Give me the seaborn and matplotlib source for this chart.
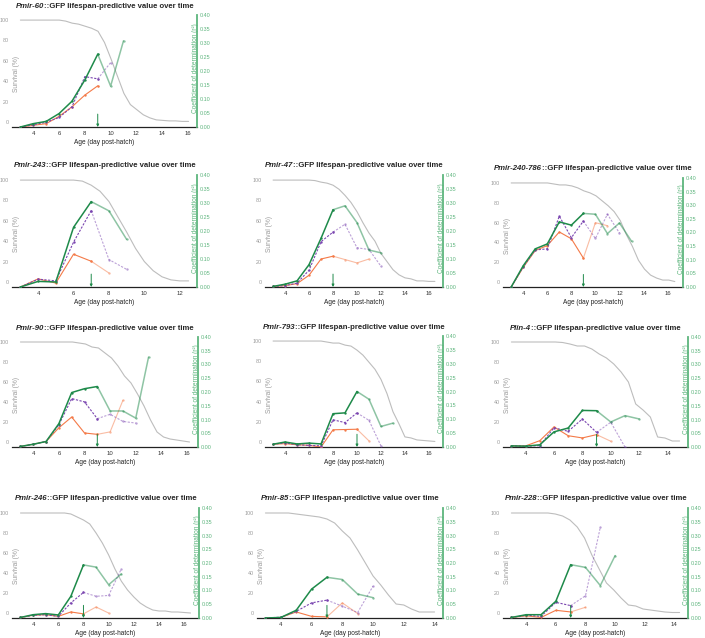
import numpy as np
import matplotlib
matplotlib.use("Agg")
import matplotlib.pyplot as plt
import seaborn as sns

sns.set_theme(style="white")
plt.rcParams["font.family"] = ["Liberation Sans", "DejaVu Sans"]

W, H = 705, 638

# survival curves (%), sampled every half day from day 3; last value sits at *_END
P60_SURV = [100, 100, 100, 100, 100, 100, 100, 99, 97, 96, 94, 92, 89, 78, 62, 45, 28, 17, 12, 7, 4, 2, 1.5, 1, 1, 0.5, 0.5]
P243_SURV = [100, 100, 100, 100, 100, 100, 100, 99, 95, 89, 79, 64, 49, 33, 20, 11, 5, 2, 1, 1]
P47_SURV = [100, 100, 100, 100, 100, 100, 100, 99.5, 98, 97, 95, 91, 85, 78, 69, 58, 48, 40, 28, 20, 12, 7, 4, 3, 1, 1, 0.5, 0.5]
P240_SURV = [100, 100, 100, 100, 100, 100, 100, 99, 98, 98, 97, 95, 92, 90, 87, 82, 77, 71, 62, 48, 36, 22, 13, 7, 4, 2, 2, 0.5]
P90_SURV = [100, 100, 100, 100, 100, 100, 100, 100, 100, 99, 98, 95, 94, 89, 84, 76, 66, 59, 48, 36, 22, 10, 5, 3, 2, 1, 0]
P793_SURV = [100, 100, 100, 100, 100, 100, 100, 100, 100, 99, 98, 98, 96, 95, 91, 86, 79, 72, 62, 48, 30, 18, 5, 4, 2, 1.5, 1, 0.5]
PLIN4_SURV = [100, 100, 100, 100, 100, 100, 100, 99.5, 98, 96, 96, 93, 88, 84, 78, 70, 60, 38, 32, 25, 5, 4, 1, 1]
P246_SURV = [100, 100, 100, 100, 100, 100, 100, 100, 99, 96, 93, 89, 80, 70, 58, 44, 32, 23, 16, 10, 6, 3, 2, 2, 1, 1, 0.5, 0]
P85_SURV = [100, 100, 100, 100, 99, 98, 97, 96, 94, 90, 82, 75, 63, 50, 37, 28, 18, 9, 8, 4, 1, 1, 1]
P228_SURV = [100, 100, 100, 100, 100, 100, 99, 97, 93, 86, 75, 58, 44, 30, 23, 15, 8, 7, 4, 3, 2, 1, 0.5, 0.5]

SURV_END = [16.05, 12.5, 16.5, 16.6, 16.2, 16.5, 14.85, 16.5, 14.0, 14.35]

# r2 per day, starting at day 3 (green = GFP, purple dashed, orange)
nan = np.nan
P60_G = [0.0, 0.012, 0.02, 0.048, 0.092, 0.168, 0.26, 0.146, 0.308]
P60_P = [0.0, 0.008, 0.017, 0.034, 0.072, 0.18, 0.172, 0.23, nan]
P60_O = [0.0, 0.006, 0.012, 0.038, 0.072, 0.114, 0.147, nan, nan]

P243_G = [0.0, 0.02, 0.018, 0.213, 0.305, 0.272, 0.17]
P243_P = [0.0, 0.028, 0.022, 0.16, 0.273, 0.098, 0.063]
P243_O = [0.0, 0.029, 0.014, 0.117, 0.092, 0.05, nan]

P47_G = [0.002, 0.01, 0.022, 0.08, 0.174, 0.276, 0.29, 0.23, 0.132, 0.122]
P47_P = [0.002, 0.005, 0.014, 0.06, 0.162, 0.196, 0.224, 0.14, 0.134, 0.074]
P47_O = [0.002, 0.005, 0.012, 0.042, 0.1, 0.11, 0.098, 0.086, 0.1, nan]

P240_G = [0.0, 0.078, 0.14, 0.158, 0.239, 0.227, 0.27, 0.267, 0.196, 0.235, 0.168]
P240_P = [0.0, 0.074, 0.136, 0.14, 0.26, 0.181, 0.242, 0.178, 0.267, 0.198, nan]
P240_O = [0.0, 0.072, 0.134, 0.152, 0.202, 0.177, 0.106, 0.236, 0.225, nan, nan]

P90_G = [0.002, 0.01, 0.02, 0.085, 0.198, 0.212, 0.22, 0.131, 0.131, 0.105, 0.327]
P90_P = [0.002, 0.01, 0.02, 0.081, 0.176, 0.164, 0.103, 0.119, 0.093, 0.087, nan]
P90_O = [0.002, 0.01, 0.02, 0.07, 0.109, 0.051, 0.046, 0.055, 0.17, nan, nan]

P793_G = [0.01, 0.018, 0.011, 0.014, 0.011, 0.12, 0.123, 0.2, 0.172, 0.074, 0.086]
P793_P = [0.01, 0.015, 0.008, 0.006, 0.004, 0.098, 0.088, 0.123, 0.096, 0.004, nan]
P793_O = [0.01, 0.012, 0.008, 0.006, 0.0, 0.062, 0.063, 0.064, 0.022, nan, nan]

PLIN4_G = [0.004, 0.003, 0.008, 0.055, 0.069, 0.133, 0.132, 0.091, 0.114, 0.102]
PLIN4_P = [0.004, 0.003, 0.005, 0.07, 0.057, 0.102, 0.053, 0.09, 0.0, nan]
PLIN4_O = [0.004, 0.004, 0.023, 0.073, 0.041, 0.033, 0.045, 0.021, nan, nan]

P246_G = [0.002, 0.012, 0.016, 0.011, 0.079, 0.193, 0.185, 0.121, 0.16]
P246_P = [0.002, 0.01, 0.012, 0.006, 0.055, 0.093, 0.079, 0.082, 0.178]
P246_O = [0.002, 0.01, 0.012, 0.006, 0.022, 0.015, 0.04, 0.018, nan]

P85_G = [0.0, 0.002, 0.028, 0.105, 0.148, 0.14, 0.087, 0.074]
P85_P = [0.0, 0.003, 0.024, 0.055, 0.065, 0.043, 0.02, 0.116]
P85_O = [0.0, 0.002, 0.022, 0.006, 0.004, 0.055, 0.016, nan]

P228_G = [0.002, 0.012, 0.012, 0.061, 0.194, 0.184, 0.118, 0.227]
P228_P = [0.002, 0.01, 0.006, 0.057, 0.045, 0.081, 0.33, nan]
P228_O = [0.002, 0.008, 0.002, 0.028, 0.022, 0.039, nan, nan]

GENES = ["Pmir-60", "Pmir-243", "Pmir-47", "Pmir-240-786", "Pmir-90",
         "Pmir-793", "Plin-4", "Pmir-246", "Pmir-85", "Pmir-228"]
ARROW_DAY = [9, 7, 8, 9, 9, 10, 9, 8, 7, 7]

SURV = [P60_SURV, P243_SURV, P47_SURV, P240_SURV, P90_SURV,
        P793_SURV, PLIN4_SURV, P246_SURV, P85_SURV, P228_SURV]
R2 = [(P60_G, P60_P, P60_O), (P243_G, P243_P, P243_O), (P47_G, P47_P, P47_O),
      (P240_G, P240_P, P240_O), (P90_G, P90_P, P90_O), (P793_G, P793_P, P793_O),
      (PLIN4_G, PLIN4_P, PLIN4_O), (P246_G, P246_P, P246_O),
      (P85_G, P85_P, P85_O), (P228_G, P228_P, P228_O)]

# axes boxes in pixels: left, top, right, bottom
BOXES = [(12, 15, 197, 127),
         (12, 175, 197, 287), (265, 175, 443, 287), (503, 178, 683, 287),
         (12, 337, 198, 447), (265, 336, 443, 447), (503, 337, 688, 447),
         (12, 508, 199, 618), (257, 508, 443, 618), (503, 508, 688, 618)]

C_GREEN = "#1e8a4a"
C_PURPLE = "#7a45b0"
C_ORANGE = "#f47a48"
C_GRAY = "#bdbdbd"
C_AXGREEN = "#5db57d"
C_TICK = "#9a9a9a"


def draw_series(ax, days, vals, color, split, lw, dashed=False):
    days = np.asarray(days, float)
    vals = np.asarray(vals, float)
    ok = ~np.isnan(vals)
    days, vals = days[ok], vals[ok]
    ls = (0, (2.0, 1.3)) if dashed else "-"
    early = days <= split
    late = days >= split
    for mask, alpha in [(late, 0.5), (early, 1.0)]:
        if mask.sum() < 1:
            continue
        sns.lineplot(x=days[mask], y=vals[mask], ax=ax, color=color, lw=lw,
                     linestyle=ls, alpha=alpha, marker="o", markersize=1.7,
                     markeredgewidth=0, sort=False, estimator=None, legend=False)


fig = plt.figure(figsize=(W / 100, H / 100), dpi=100)
titles = []
for i, gene in enumerate(GENES):
    l, t, r, b = BOXES[i]
    ax = fig.add_axes([l / W, 1 - b / H, (r - l) / W, (b - t) / H])
    ax2 = ax.twinx()

    surv = SURV[i]
    ages = np.linspace(3, SURV_END[i], len(surv))
    sns.lineplot(x=ages, y=surv, ax=ax, color=C_GRAY, lw=0.8, sort=False, estimator=None)
    ax.set_ylim(-5, 105)
    ax.set_yticks([0, 20, 40, 60, 80, 100])
    ax.margins(x=0.05)

    g, p, o = R2[i]
    days = np.arange(3, 3 + len(g))
    split = ARROW_DAY[i]
    draw_series(ax2, days, o, C_ORANGE, split, 0.8)
    draw_series(ax2, days, p, C_PURPLE, split, 0.8, dashed=True)
    draw_series(ax2, days, g, C_GREEN, split, 1.1)
    ax2.annotate("", xy=(split, 0.0), xytext=(split, 0.046),
                 arrowprops=dict(arrowstyle="-|>", color=C_GREEN, lw=0.7,
                                 mutation_scale=3.5, shrinkA=0, shrinkB=0))
    ax2.set_ylim(0, 0.4)
    ax2.set_yticks(np.arange(0, 0.401, 0.05))
    ax2.set_yticklabels([f"{v:.2f}" for v in np.arange(0, 0.401, 0.05)])
    ax2.set_xlim(ax.get_xlim())

    for s in ["left", "top", "right"]:
        ax.spines[s].set_visible(False)
    ax.spines["bottom"].set_color("#222222")
    ax.spines["bottom"].set_linewidth(0.9)
    for s in ["left", "top", "bottom"]:
        ax2.spines[s].set_visible(False)
    ax2.spines["right"].set_color(C_AXGREEN)
    ax2.spines["right"].set_linewidth(1.3)

    ax.tick_params(axis="y", length=0, labelsize=3.9, labelcolor=C_TICK, pad=2)
    ax.tick_params(axis="x", length=1.5, width=0.5, labelsize=4.3, labelcolor="#333333", pad=1.5)
    ax2.tick_params(axis="y", length=0, labelsize=3.9, labelcolor=C_AXGREEN, pad=2)
    ax.grid(False)
    ax2.grid(False)

    ax.set_xlabel("Age (day post-hatch)", fontsize=4.7, color="#222222", labelpad=2)
    ax.set_ylabel("Survival (%)", fontsize=4.8, color=C_TICK)
    ax.yaxis.set_label_coords(0.045, 0.47)
    ax2.set_ylabel("Coefficient of determination (r²)", fontsize=4.7, color=C_AXGREEN)
    ax2.yaxis.set_label_coords(0.972, 0.53)

    t1 = ax.text(0, 1 + 9 / (b - t), gene, transform=ax.transAxes, fontsize=5.6,
                 fontweight="bold", fontstyle="italic", ha="left", va="center")
    t2 = ax.annotate("::GFP lifespan-predictive value over time", xy=(1, 0.5),
                     xycoords=t1, fontsize=5.6, fontweight="bold", ha="left", va="center")
    titles.append((ax, t1, t2))

fig.canvas.draw()
rend = fig.canvas.get_renderer()
for ax, t1, t2 in titles:
    w = t1.get_window_extent(rend).width + t2.get_window_extent(rend).width
    bb = ax.get_window_extent(rend)
    x0 = (bb.width / 2 - w / 2) / bb.width
    t1.set_x(x0)

fig.savefig("out.png", dpi=100)
